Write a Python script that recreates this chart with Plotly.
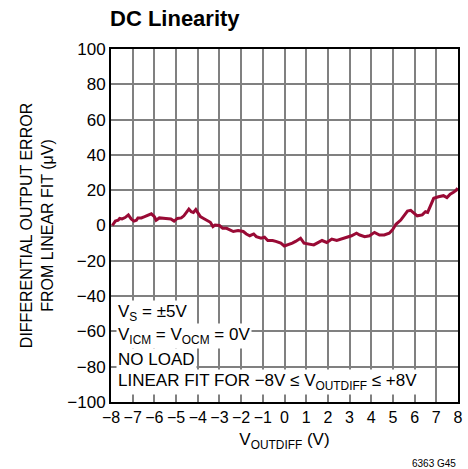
import plotly.graph_objects as go

# Output error vs differential output voltage
v_outdiff = [
    -7.94, -7.8, -7.67, -7.6, -7.49, -7.35, -7.2, -7.07, -6.94, -6.83, -6.76, -6.6,
    -6.45, -6.3, -6.14, -6.0, -5.92, -5.77, -5.62, -5.47, -5.24, -5.09, -4.94,
    -4.76, -4.64, -4.5, -4.41, -4.3, -4.2, -4.09, -4.0, -3.88, -3.73, -3.55,
    -3.42, -3.3, -3.2, -3.0, -2.85, -2.67, -2.51, -2.36, -2.14, -1.9, -1.76,
    -1.6, -1.42, -1.3, -1.08, -0.92, -0.77, -0.55, -0.4, -0.17, -0.01, 0.14,
    0.36, 0.51, 0.74, 0.9, 1.12, 1.35, 1.5, 1.73, 1.95, 2.18, 2.41, 2.64,
    2.86, 3.09, 3.32, 3.47, 3.7, 3.92, 4.15, 4.38, 4.6, 4.83, 4.98, 5.14,
    5.36, 5.55, 5.67, 5.82, 5.94, 6.12, 6.35, 6.5, 6.6, 6.73, 6.88, 7.1,
    7.33, 7.49, 7.64, 7.79, 7.92, 7.98,
]
error_uv = [
    0.0, 2.5, 3.0, 4.0, 3.7, 4.5, 6.0, 3.7, 2.5, 3.0, 4.3, 4.3,
    5.0, 6.0, 6.6, 5.0, 3.0, 4.3, 4.3, 4.0, 3.7, 2.5, 4.0,
    4.3, 5.5, 7.8, 9.3, 7.8, 7.4, 9.0, 7.0, 5.0, 4.0, 2.5,
    1.8, -0.6, 0.3, 0.0, -1.6, -1.6, -2.5, -3.4, -2.9, -3.4, -4.8,
    -5.8, -4.8, -6.3, -7.2, -6.6, -8.5, -8.5, -9.0, -10.0, -11.6, -11.0,
    -10.0, -9.0, -7.2, -10.0, -10.6, -11.0, -10.0, -8.5, -9.6, -7.7, -8.5, -7.7,
    -6.9, -5.8, -4.4, -5.4, -6.3, -5.8, -3.9, -5.4, -5.4, -4.4, -2.5, 0.7,
    3.1, 6.0, 8.2, 8.6, 7.4, 5.5, 6.0, 7.8, 7.4, 11.6, 15.4, 16.3,
    16.9, 15.8, 17.7, 18.8, 20.0, 21.3,
]

x_ticks = list(range(-8, 9))
y_ticks = list(range(-100, 101, 20))
x_tick_text = [str(v).replace("-", "\u2212") for v in x_ticks]
y_tick_text = [str(v).replace("-", "\u2212") for v in y_ticks]

notes = [
    "V<sub>S</sub> = \u00b15V",
    "V<sub>ICM</sub> = V<sub>OCM</sub> = 0V",
    "NO LOAD",
    "LINEAR FIT FOR \u22128V \u2264 V<sub>OUTDIFF</sub> \u2264 +8V",
]
note_y = [0.252, 0.186, 0.121, 0.056]

FONT = "Liberation Sans, Arial, sans-serif"

fig = go.Figure()
fig.add_trace(go.Scatter(
    x=v_outdiff, y=error_uv, mode="lines",
    line=dict(color="#990a35", width=3),
    hoverinfo="skip",
))

for txt, yy in zip(notes, note_y):
    fig.add_annotation(
        text=txt, xref="paper", yref="paper", x=0.015, y=yy,
        xanchor="left", yanchor="middle", showarrow=False,
        bgcolor="white", borderpad=1,
        font=dict(family=FONT, size=17, color="black"),
    )

fig.add_annotation(
    text="6363 G45", xref="paper", yref="paper", x=1.0, y=-0.175,
    xanchor="right", yanchor="middle", showarrow=False,
    font=dict(family=FONT, size=10, color="black"),
)

fig.update_layout(
    width=468, height=469,
    margin=dict(l=111, r=5, t=49, b=67),
    paper_bgcolor="white", plot_bgcolor="white",
    showlegend=False,
    font=dict(family=FONT, size=17, color="black"),
    title=dict(
        text="<b>DC Linearity</b>", x=110 / 468, xanchor="left",
        y=1 - 18 / 469, yanchor="middle",
        font=dict(family=FONT, size=22, color="black"),
    ),
    xaxis=dict(
        range=[-8, 8], tickvals=x_ticks, ticktext=x_tick_text,
        tickangle=0,
        showgrid=True, gridcolor="#808080", gridwidth=1.5,
        showline=True, linecolor="black", linewidth=2, mirror=True,
        zeroline=False, ticks="", ticklen=0,
        title=dict(text="V<sub>OUTDIFF</sub> (V)", standoff=8,
                   font=dict(family=FONT, size=17)),
        tickfont=dict(family=FONT, size=16),
    ),
    yaxis=dict(
        range=[-100, 100], tickvals=y_ticks, ticktext=y_tick_text,
        showgrid=True, gridcolor="#808080", gridwidth=1.5,
        showline=True, linecolor="black", linewidth=2, mirror=True,
        zeroline=False, ticks="", ticklen=0,
        title=dict(text="DIFFERENTIAL OUTPUT ERROR<br>FROM LINEAR FIT (\u03bcV)",
                   standoff=10, font=dict(family=FONT, size=16)),
        tickfont=dict(family=FONT, size=17),
    ),
)

fig.write_html("out.html")
